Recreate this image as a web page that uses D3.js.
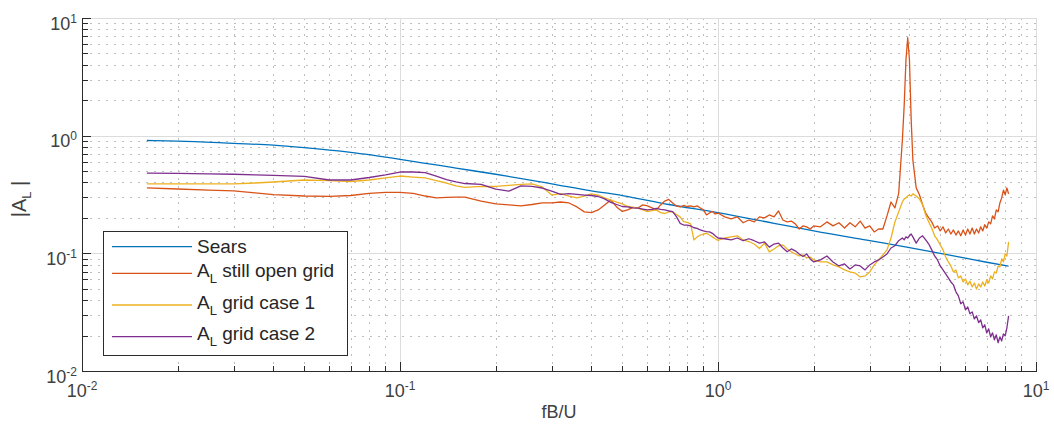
<!DOCTYPE html>
<html>
<head>
<meta charset="utf-8">
<script src="https://cdn.jsdelivr.net/npm/d3@7"></script>
<style>
  body { margin: 0; background: #fff; }
  svg { display: block; font-family: "Liberation Sans", Arial, Helvetica, sans-serif; }
</style>
</head>
<body>
<div id="chart"></div>
<script>
// frequency fB/U shared by the three measured series
const freq = [
  0.016, 0.02, 0.025, 0.03, 0.035, 0.04, 0.05, 0.06, 0.07, 0.08,
  0.09, 0.1, 0.11, 0.12, 0.13, 0.14, 0.15, 0.16, 0.18, 0.2,
  0.22, 0.24, 0.26, 0.28, 0.3,
  0.32, 0.34, 0.36, 0.38, 0.4, 0.42, 0.44, 0.46, 0.48, 0.5,
  0.52, 0.54, 0.56, 0.58, 0.6, 0.62, 0.64, 0.66, 0.68, 0.7,
  0.72, 0.74, 0.76, 0.78, 0.8, 0.82, 0.84, 0.86, 0.88, 0.9,
  0.92, 0.94, 0.96, 0.98, 1.0,
  1.05, 1.1, 1.15, 1.2, 1.25, 1.3, 1.35, 1.4, 1.45, 1.5,
  1.55, 1.6, 1.65, 1.7, 1.75, 1.8, 1.85, 1.9, 1.95, 2.0,
  2.1, 2.2, 2.3, 2.4, 2.5, 2.6, 2.7, 2.8, 2.9, 3.0,
  3.1, 3.2, 3.3, 3.4, 3.5, 3.6, 3.7, 3.8,
  3.85, 3.9, 3.95, 4.0, 4.05, 4.1,
  4.2, 4.3, 4.4, 4.5, 4.6, 4.7, 4.8, 4.9, 5.0, 5.1,
  5.2, 5.3, 5.4, 5.5, 5.6, 5.7, 5.8, 5.9, 6.0, 6.1,
  6.2, 6.3, 6.4, 6.5, 6.6, 6.7, 6.8, 6.9, 7.0, 7.1,
  7.2, 7.3, 7.4, 7.5, 7.6, 7.7, 7.8, 7.9, 8.0, 8.1,
  8.2
];

// |A_L| still open grid
const stillOpen = [
  0.36, 0.352, 0.345, 0.34, 0.326, 0.315, 0.307, 0.305, 0.31, 0.323,
  0.33, 0.33, 0.323, 0.307, 0.296, 0.299, 0.3, 0.3, 0.278, 0.263,
  0.258, 0.253, 0.26, 0.268, 0.268,
  0.273, 0.268, 0.248, 0.225, 0.222, 0.234, 0.258, 0.284, 0.248, 0.227,
  0.234, 0.246, 0.243, 0.258, 0.253, 0.243, 0.234, 0.258, 0.278, 0.287,
  0.268, 0.253, 0.248, 0.255, 0.25, 0.253, 0.248, 0.253, 0.243, 0.234,
  0.212, 0.22, 0.227, 0.216, 0.22,
  0.204, 0.196, 0.204, 0.182, 0.192, 0.185, 0.204, 0.2, 0.212, 0.204,
  0.229, 0.192, 0.185, 0.188, 0.178, 0.161, 0.171, 0.168, 0.161, 0.171,
  0.168, 0.185, 0.171, 0.182, 0.164, 0.182, 0.168, 0.188, 0.164, 0.171,
  0.152, 0.161, 0.161, 0.208, 0.273, 0.243, 0.323, 0.92,
  1.8, 4.4, 6.8, 4.4, 1.37, 0.62,
  0.36, 0.315, 0.258, 0.22, 0.2, 0.185, 0.164, 0.171, 0.155, 0.168,
  0.149, 0.161, 0.146, 0.158, 0.143, 0.155, 0.141, 0.158, 0.143, 0.161,
  0.146, 0.164, 0.146, 0.161, 0.149, 0.168, 0.155, 0.175, 0.164, 0.185,
  0.178, 0.208, 0.196, 0.234, 0.225, 0.268, 0.296, 0.345, 0.315, 0.359,
  0.32
];

// |A_L| grid case 1
const gridCase1 = [
  0.389, 0.389, 0.389, 0.39, 0.396, 0.404, 0.42, 0.415, 0.408, 0.42,
  0.437, 0.454, 0.445, 0.437, 0.415, 0.396, 0.374, 0.363, 0.37, 0.37,
  0.378, 0.385, 0.39, 0.367, 0.313,
  0.322, 0.307, 0.296, 0.307, 0.32, 0.313, 0.296, 0.284, 0.273, 0.263,
  0.25, 0.246, 0.242, 0.234, 0.226, 0.231, 0.234, 0.222, 0.218, 0.225,
  0.225, 0.214, 0.204, 0.186, 0.183, 0.178, 0.13, 0.138, 0.143, 0.146,
  0.148, 0.143, 0.138, 0.133, 0.129,
  0.135, 0.138, 0.141, 0.13, 0.126, 0.12, 0.11, 0.122, 0.103, 0.109,
  0.116, 0.118, 0.109, 0.103, 0.0988, 0.095, 0.097, 0.0914, 0.093, 0.0879,
  0.0845, 0.0845, 0.0797, 0.0767, 0.0723, 0.0695, 0.068, 0.063, 0.0643, 0.0695,
  0.0797, 0.0879, 0.097, 0.107, 0.135, 0.185, 0.225, 0.273,
  0.29, 0.296, 0.307, 0.313, 0.307, 0.32,
  0.307, 0.29, 0.258, 0.212, 0.185, 0.164, 0.141, 0.13, 0.118, 0.107,
  0.093, 0.0845, 0.0781, 0.0695, 0.0723, 0.0618, 0.0643, 0.0571, 0.0606, 0.054,
  0.058, 0.0518, 0.056, 0.0498, 0.055, 0.0518, 0.0571, 0.0528, 0.0594, 0.056,
  0.0643, 0.0606, 0.0695, 0.068, 0.0781, 0.0767, 0.0896, 0.0845, 0.0988, 0.095,
  0.125
];

// |A_L| grid case 2
const gridCase2 = [
  0.48, 0.478, 0.473, 0.47, 0.464, 0.459, 0.45, 0.42, 0.42, 0.441,
  0.464, 0.491, 0.491, 0.486, 0.454, 0.424, 0.404, 0.392, 0.385, 0.352,
  0.338, 0.374, 0.37, 0.359, 0.338,
  0.317, 0.322, 0.317, 0.313, 0.31, 0.304, 0.29, 0.271, 0.26, 0.25,
  0.248, 0.243, 0.242, 0.238, 0.234, 0.236, 0.241, 0.236, 0.234, 0.229,
  0.226, 0.205, 0.18, 0.174, 0.174, 0.171, 0.165, 0.163, 0.158, 0.155,
  0.153, 0.152, 0.148, 0.141, 0.135,
  0.133, 0.13, 0.135, 0.128, 0.133, 0.128, 0.122, 0.125, 0.113, 0.12,
  0.122, 0.111, 0.103, 0.109, 0.105, 0.0988, 0.094, 0.0988, 0.0896, 0.0845,
  0.0879, 0.095, 0.0845, 0.0781, 0.0813, 0.0737, 0.0797, 0.0781, 0.0723, 0.0797,
  0.0845, 0.0879, 0.093, 0.0988, 0.111, 0.116, 0.128, 0.135,
  0.13, 0.138, 0.135, 0.141, 0.146, 0.138,
  0.122, 0.135, 0.141, 0.13, 0.12, 0.107, 0.095, 0.0879, 0.0781, 0.0723,
  0.0668, 0.0618, 0.0571, 0.054, 0.0471, 0.0435, 0.0373, 0.0387, 0.0331, 0.035,
  0.0306, 0.0318, 0.0277, 0.0294, 0.0258, 0.0272, 0.0233, 0.0247, 0.0211, 0.0228,
  0.0195, 0.0211, 0.0184, 0.0203, 0.0174, 0.0195, 0.018, 0.0207, 0.0199, 0.0233,
  0.0294
];

// Sears function
const searsFreq = [0.016, 0.02, 0.03, 0.04, 0.05, 0.07, 0.1, 0.15, 0.2, 0.3, 0.4, 0.5, 0.7, 1.0, 1.5, 2, 3, 4, 5, 6, 7, 8.2];
const searsAmp  = [0.91, 0.90, 0.86, 0.83, 0.79, 0.72, 0.63, 0.53, 0.47, 0.39, 0.34, 0.31, 0.26, 0.222, 0.18, 0.155, 0.128, 0.112, 0.100, 0.091, 0.084, 0.078];

const decades = [0.01, 0.1, 1, 10];
const decadeExp = ["-2", "-1", "0", "1"];

const colors = ['#0072BD', '#D95319', '#EDB120', '#7E2F8E'];

const W = 1054, H = 426;
const plot = { left: 82, right: 1036, top: 18, bottom: 371 };

const x = d3.scaleLog().domain([0.01, 10]).range([plot.left, plot.right]);
const y = d3.scaleLog().domain([0.01, 10]).range([plot.bottom, plot.top]);

const svg = d3.select('#chart').append('svg')
  .attr('width', W).attr('height', H);

svg.append('rect').attr('width', W).attr('height', H).attr('fill', '#fff');

const allTicks = x.ticks();   // 1..9 x 10^k
const isMajor = d => Math.abs(Math.log10(d) - Math.round(Math.log10(d))) < 1e-9;
const minor = allTicks.filter(d => !isMajor(d));
const px = v => Math.round(v) + 0.5;

// grid
const grid = svg.append('g').attr('shape-rendering', 'crispEdges');
grid.selectAll('.mx').data(minor).enter().append('line')
  .attr('x1', d => px(x(d))).attr('x2', d => px(x(d)))
  .attr('y1', plot.top).attr('y2', plot.bottom)
  .attr('stroke', '#bdbdbd').attr('stroke-dasharray', '2,6');
grid.selectAll('.my').data(minor).enter().append('line')
  .attr('y1', d => px(y(d))).attr('y2', d => px(y(d)))
  .attr('x1', plot.left).attr('x2', plot.right)
  .attr('stroke', '#bdbdbd').attr('stroke-dasharray', '2,6');
grid.selectAll('.Mx').data(decades.slice(1)).enter().append('line')
  .attr('x1', d => px(x(d))).attr('x2', d => px(x(d)))
  .attr('y1', plot.top).attr('y2', plot.bottom)
  .attr('stroke', '#dcdcdc');
grid.selectAll('.My').data(decades.slice(1)).enter().append('line')
  .attr('y1', d => px(y(d))).attr('y2', d => px(y(d)))
  .attr('x1', plot.left).attr('x2', plot.right)
  .attr('stroke', '#dcdcdc');

// lines
svg.append('clipPath').attr('id', 'clip').append('rect')
  .attr('x', plot.left).attr('y', plot.top)
  .attr('width', plot.right - plot.left).attr('height', plot.bottom - plot.top);

const line = d3.line()
  .defined(d => d[1] != null && d[1] > 0)
  .x(d => x(d[0])).y(d => y(d[1]));

const lines = svg.append('g').attr('clip-path', 'url(#clip)');
lines.append('path')
  .datum(searsFreq.map((f, i) => [f, searsAmp[i]]))
  .attr('d', line.curve(d3.curveMonotoneX))
  .attr('fill', 'none').attr('stroke', colors[0]).attr('stroke-width', 1.3);
line.curve(d3.curveLinear);
[stillOpen, gridCase1, gridCase2].forEach((s, k) => {
  lines.append('path')
    .datum(freq.map((f, i) => [f, s[i]]))
    .attr('d', line)
    .attr('fill', 'none').attr('stroke', colors[k + 1])
    .attr('stroke-width', 1.3).attr('stroke-linejoin', 'round');
});

// axes (ticks inside)
const axisColor = '#2b2b2b';
const xAxis = svg.append('g')
  .attr('transform', `translate(0,${plot.bottom})`)
  .call(d3.axisBottom(x).tickValues(allTicks).tickSize(-9).tickSizeOuter(0).tickFormat(''));
xAxis.selectAll('.tick line').attr('y2', d => isMajor(d) ? -9 : -5.5);

const yAxis = svg.append('g')
  .attr('transform', `translate(${plot.left},0)`)
  .call(d3.axisLeft(y).tickValues(allTicks).tickSize(-9).tickSizeOuter(0).tickFormat(''));
yAxis.selectAll('.tick line').attr('x2', d => isMajor(d) ? 9 : 5.5);

[xAxis, yAxis].forEach(a => {
  a.attr('shape-rendering', 'crispEdges');
  a.selectAll('path, line').attr('stroke', axisColor);
});

// tick labels 10^n
const labelColor = '#404040';
function powLabel(g, xPos, yPos, exp, anchor) {
  const t = g.append('text')
    .attr('x', xPos).attr('y', yPos)
    .attr('text-anchor', anchor)
    .attr('fill', labelColor)
    .attr('font-size', 18);
  t.append('tspan').text('10');
  t.append('tspan').attr('dy', -7).attr('font-size', 12).text(exp);
}
const labels = svg.append('g');
decades.forEach((d, i) => powLabel(labels, x(d), 397, decadeExp[i], 'middle'));
decades.forEach((d, i) => powLabel(labels, 77, y(d) + 11.5, decadeExp[i], 'end'));

// axis titles
svg.append('text')
  .attr('x', (plot.left + plot.right) / 2).attr('y', 418)
  .attr('text-anchor', 'middle').attr('fill', labelColor).attr('font-size', 18)
  .text('fB/U');

const yt = svg.append('text')
  .attr('transform', 'translate(26,199) rotate(-90)')
  .attr('text-anchor', 'middle').attr('fill', labelColor).attr('font-size', 20);
yt.append('tspan').text('|A');
yt.append('tspan').attr('dy', 5).attr('font-size', 13).text('L');
yt.append('tspan').attr('dy', -5).text(' |');

// legend
const legendItems = [
  { label: 'Sears', sub: false, ly: 246.7, ty: 253.3 },
  { label: ' still open grid', sub: true, ly: 273.3, ty: 277 },
  { label: ' grid case 1', sub: true, ly: 305, ty: 308.5 },
  { label: ' grid case 2', sub: true, ly: 336.7, ty: 340 }
];
const lg = svg.append('g');
lg.append('rect')
  .attr('x', 103.5).attr('y', 231.5).attr('width', 244).attr('height', 124)
  .attr('fill', '#fff').attr('stroke', axisColor).attr('shape-rendering', 'crispEdges');
legendItems.forEach((it, i) => {
  lg.append('line')
    .attr('x1', 112).attr('x2', 192).attr('y1', it.ly).attr('y2', it.ly)
    .attr('stroke', colors[i]).attr('stroke-width', 1.3);
  const t = lg.append('text')
    .attr('x', 197).attr('y', it.ty)
    .attr('fill', '#262626').attr('font-size', 19);
  if (it.sub) {
    t.append('tspan').text('A');
    t.append('tspan').attr('dy', 6).attr('font-size', 13).text('L');
    t.append('tspan').attr('dy', -6).attr('xml:space', 'preserve').text(it.label);
  } else {
    t.text(it.label);
  }
});
</script>
</body>
</html>
